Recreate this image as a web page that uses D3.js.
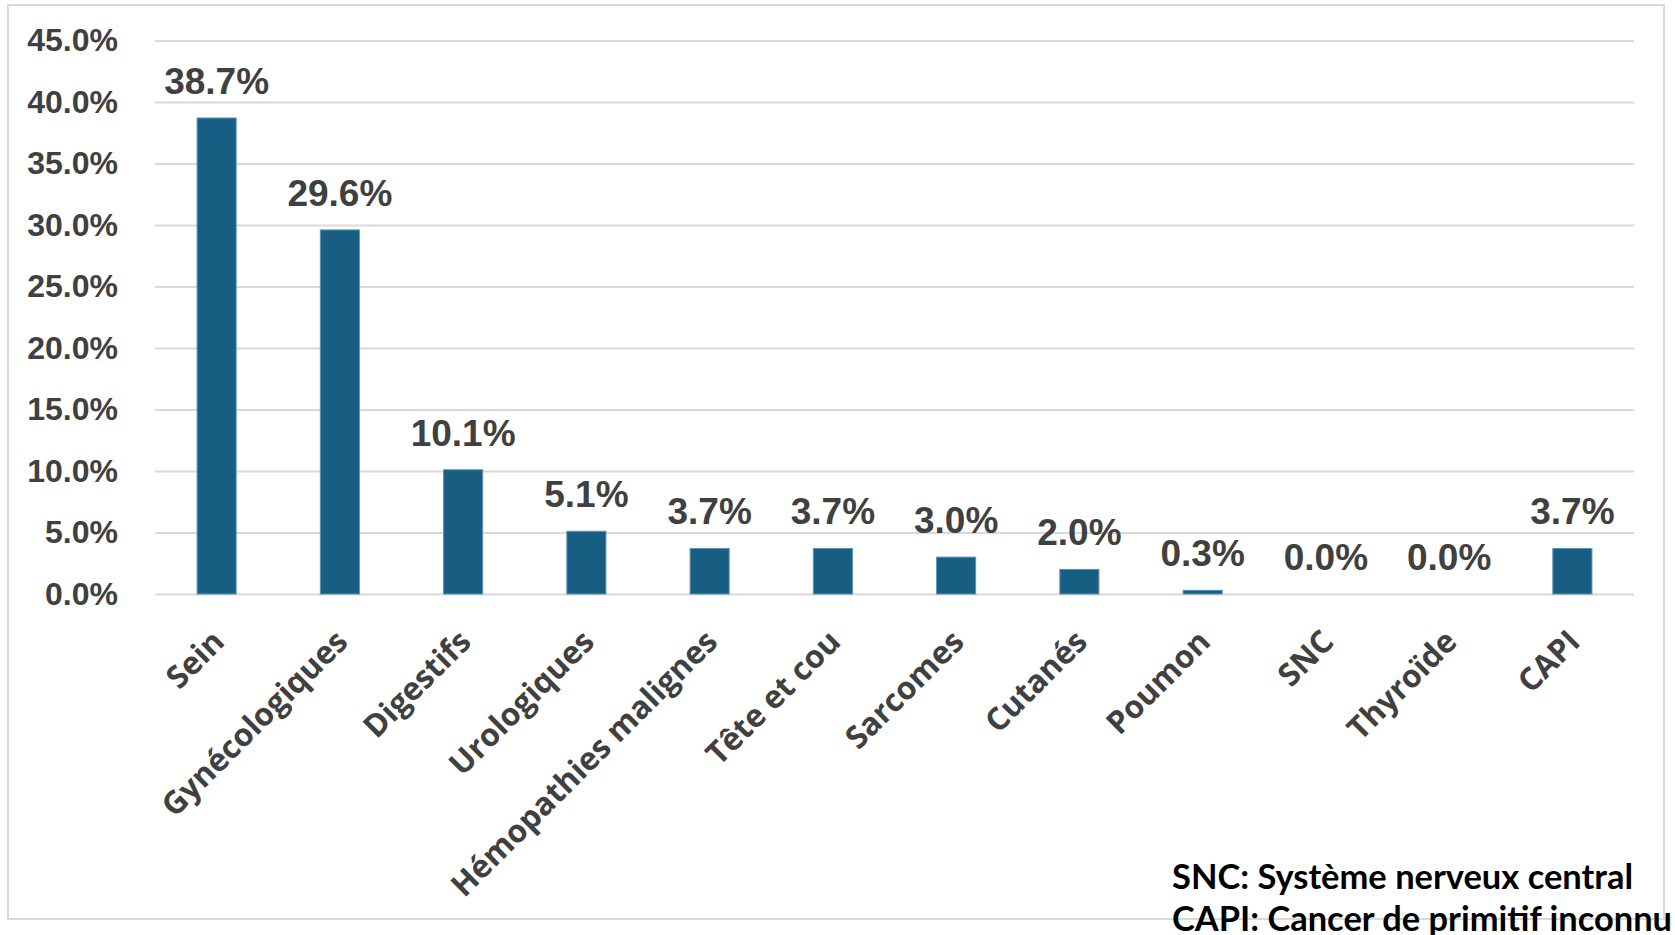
<!DOCTYPE html>
<html>
<head>
<meta charset="utf-8">
<script src="https://cdn.jsdelivr.net/npm/d3@7"></script>
<style>
  body { margin: 0; background: #fff; }
</style>
</head>
<body>
<div id="chart"></div>
<script>
var categories = ["Sein", "Gynécologiques", "Digestifs", "Urologiques", "Hémopathies malignes",
    "Tête et cou", "Sarcomes", "Cutanés", "Poumon", "SNC", "Thyroïde", "CAPI"];
var values = [38.7, 29.6, 10.1, 5.1, 3.7, 3.7, 3.0, 2.0, 0.3, 0.0, 0.0, 3.7];
var yTicks = [0, 5, 10, 15, 20, 25, 30, 35, 40, 45];
var notes = ["SNC: Système nerveux central", "CAPI: Cancer de primitif inconnu"];

var W = 1675, H = 935;
var plot = { left: 155, right: 1634, top: 40.5, bottom: 594 };

var svg = d3.select("#chart").append("svg")
    .attr("width", W)
    .attr("height", H);

// chart frame
svg.append("rect")
    .attr("x", 8).attr("y", 5)
    .attr("width", 1656).attr("height", 914)
    .attr("fill", "#fff")
    .attr("stroke", "#d9d9d9")
    .attr("stroke-width", 2);

var x = d3.scaleBand()
    .domain(categories)
    .range([plot.left, plot.right])
    .padding(0);
var y = d3.scaleLinear()
    .domain([0, 45])
    .range([plot.bottom, plot.top]);

var barW = x.bandwidth() * 0.317;

// gridlines + y labels
var yAxis = svg.append("g")
    .attr("transform", "translate(" + plot.left + ",0)")
    .call(d3.axisLeft(y)
        .tickValues(yTicks)
        .tickSize(-(plot.right - plot.left))
        .tickPadding(37)
        .tickFormat(function (d) { return d3.format(".1f")(d) + "%"; }));
yAxis.select(".domain").remove();
yAxis.selectAll(".tick line").attr("stroke", "#d9d9d9").attr("stroke-width", 2);
yAxis.selectAll(".tick text")
    .attr("fill", "#404040")
    .attr("font-family", "Liberation Sans, Arial, sans-serif")
    .attr("font-size", "32px")
    .attr("font-weight", "700");

// bars
svg.selectAll(".bar")
    .data(values)
    .enter().append("rect")
    .attr("class", "bar")
    .attr("x", function (d, i) { return x(categories[i]) + x.bandwidth() / 2 - barW / 2; })
    .attr("width", barW)
    .attr("y", function (d) { return y(d); })
    .attr("height", function (d) { return plot.bottom - y(d); })
    .attr("fill", "#175e82")
    .attr("stroke", "#5d93b0")
    .attr("stroke-width", 1);

// value labels
svg.selectAll(".val")
    .data(values)
    .enter().append("text")
    .attr("class", "val")
    .attr("x", function (d, i) { return x(categories[i]) + x.bandwidth() / 2; })
    .attr("y", function (d) { return y(d) - 24; })
    .attr("text-anchor", "middle")
    .attr("fill", "#404040")
    .attr("font-family", "Liberation Sans, Arial, sans-serif")
    .attr("font-size", "37px")
    .attr("font-weight", "700")
    .text(function (d) { return d3.format(".1f")(d) + "%"; });

// category labels
svg.selectAll(".cat")
    .data(categories)
    .enter().append("text")
    .attr("class", "cat")
    .attr("transform", function (d) {
        return "translate(" + (x(d) + x.bandwidth() / 2 - 6) + ",628) rotate(-45)";
    })
    .attr("dy", "0.7em")
    .attr("text-anchor", "end")
    .attr("fill", "#404040")
    .attr("font-family", "Open Sans, sans-serif")
    .attr("font-size", "31.5px")
    .attr("font-weight", "700")
    .text(function (d) { return d; });

// footnote
var noteLen = [461, 500];
svg.selectAll(".note")
    .data(notes)
    .enter().append("text")
    .attr("class", "note")
    .attr("x", 1172)
    .attr("y", function (d, i) { return 889 + i * 42; })
    .attr("textLength", function (d, i) { return noteLen[i]; })
    .attr("lengthAdjust", "spacingAndGlyphs")
    .attr("fill", "#000")
    .attr("font-family", "Lato, sans-serif")
    .attr("font-size", "34.5px")
    .attr("font-weight", "700")
    .text(function (d) { return d; });
</script>
</body>
</html>
